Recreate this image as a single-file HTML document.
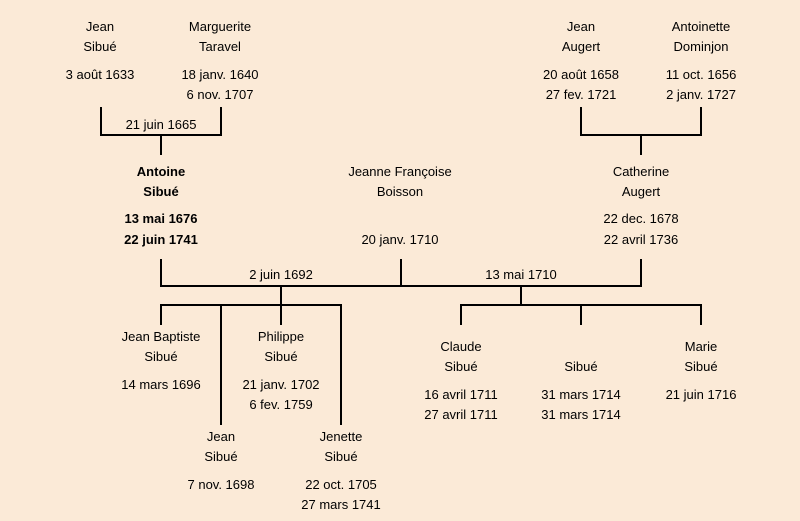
<!DOCTYPE html>
<html><head><meta charset="utf-8"><style>
html,body{margin:0;padding:0;background:#fbead7;}
svg{display:block}
text{font-family:"Liberation Sans",sans-serif;font-size:13px;fill:#000;text-anchor:middle}
.b{font-weight:bold}
</style></head><body>
<svg width="800" height="521" xmlns="http://www.w3.org/2000/svg">
<rect width="800" height="521" fill="#fbead7"/>
<g stroke="#000" stroke-width="2" fill="none">
<path d="M101 107V135H221V107M161 135V155"/>
<path d="M581 107V135H701V107M641 135V155"/>
<path d="M161 259V286H641V259M401 259V286"/>
<path d="M281 286V305M161 325V305H341V425M221 305V425M281 305V325"/>
<path d="M521 286V305M461 325V305H701V325M581 305V325"/>
</g>
<text x="100" y="31">Jean</text><text x="100" y="51">Sibué</text><text x="100" y="79">3 août 1633</text>
<text x="220" y="31">Marguerite</text><text x="220" y="51">Taravel</text><text x="220" y="79">18 janv. 1640</text><text x="220" y="99">6 nov. 1707</text>
<text x="161" y="129">21 juin 1665</text>
<text x="581" y="31">Jean</text><text x="581" y="51">Augert</text><text x="581" y="79">20 août 1658</text><text x="581" y="99">27 fev. 1721</text>
<text x="701" y="31">Antoinette</text><text x="701" y="51">Dominjon</text><text x="701" y="79">11 oct. 1656</text><text x="701" y="99">2 janv. 1727</text>
<text class="b" x="161" y="176">Antoine</text><text class="b" x="161" y="196">Sibué</text><text class="b" x="161" y="223">13 mai 1676</text><text class="b" x="161" y="244">22 juin 1741</text>
<text x="400" y="176">Jeanne Françoise</text><text x="400" y="196">Boisson</text><text x="400" y="244">20 janv. 1710</text>
<text x="641" y="176">Catherine</text><text x="641" y="196">Augert</text><text x="641" y="223">22 dec. 1678</text><text x="641" y="244">22 avril 1736</text>
<text x="281" y="279">2 juin 1692</text><text x="521" y="279">13 mai 1710</text>
<text x="161" y="341">Jean Baptiste</text><text x="161" y="361">Sibué</text><text x="161" y="389">14 mars 1696</text>
<text x="281" y="341">Philippe</text><text x="281" y="361">Sibué</text><text x="281" y="389">21 janv. 1702</text><text x="281" y="409">6 fev. 1759</text>
<text x="221" y="441">Jean</text><text x="221" y="461">Sibué</text><text x="221" y="489">7 nov. 1698</text>
<text x="341" y="441">Jenette</text><text x="341" y="461">Sibué</text><text x="341" y="489">22 oct. 1705</text><text x="341" y="509">27 mars 1741</text>
<text x="461" y="351">Claude</text><text x="461" y="371">Sibué</text><text x="461" y="399">16 avril 1711</text><text x="461" y="419">27 avril 1711</text>
<text x="581" y="371">Sibué</text><text x="581" y="399">31 mars 1714</text><text x="581" y="419">31 mars 1714</text>
<text x="701" y="351">Marie</text><text x="701" y="371">Sibué</text><text x="701" y="399">21 juin 1716</text>
</svg>
</body></html>
